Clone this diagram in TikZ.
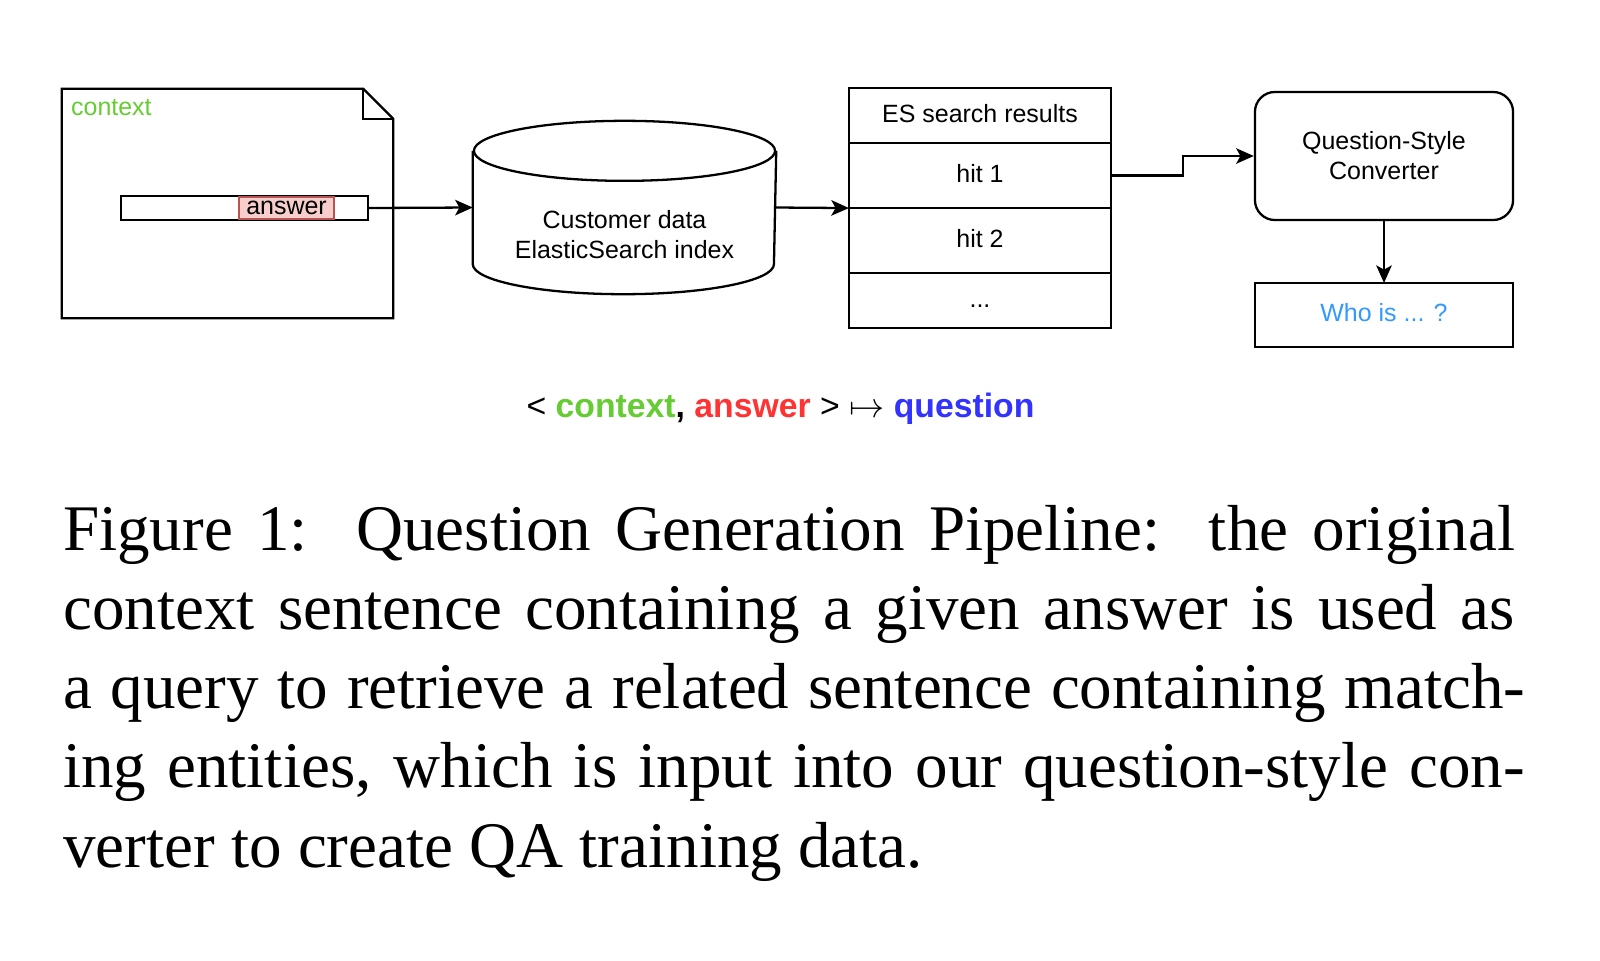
\documentclass[tikz,border=0pt]{standalone}
\usepackage{fontspec}
\setmainfont{Liberation Serif}
\setsansfont{Liberation Sans}
\usepackage{xcolor}
\usetikzlibrary{positioning,arrows.meta}

\definecolor{ctxgreen}{RGB}{102,204,51}
\definecolor{ansred}{RGB}{255,51,51}
\definecolor{qblue}{RGB}{51,51,255}
\definecolor{whoblue}{RGB}{51,153,255}
\definecolor{ansfill}{RGB}{248,206,204}
\definecolor{ansline}{RGB}{184,84,80}

\begin{document}
\begin{tikzpicture}[x=0.01cm,y=-0.01cm,line width=0.65pt,
   every node/.style={font=\sffamily\fontsize{7.1pt}{8.5pt}\selectfont},
   box/.style={draw,rectangle,minimum width=2.62cm,inner sep=0pt,outer sep=0pt,
      text height=5.2pt,text depth=1.5pt},
   arr/.style={-{Stealth[length=5pt,width=4.4pt,inset=1.2pt]}}]
\useasboundingbox (0,0) rectangle (1600,960);

% context document
\node[minimum width=3.29cm,minimum height=2.27cm,inner sep=0pt] (doc) at (227.5,203.5) {};
\draw (doc.north west) -- ([xshift=-0.3cm]doc.north east) -- ([yshift=-0.3cm]doc.north east)
   -- (doc.south east) -- (doc.south west) -- cycle;
\draw ([xshift=-0.3cm]doc.north east) -- ([xshift=-0.3cm,yshift=-0.3cm]doc.north east)
   -- ([yshift=-0.3cm]doc.north east);
\node[anchor=west,text=ctxgreen,inner sep=0pt] (ctx) at (70,108) {context};
\node[box,minimum width=2.47cm,minimum height=0.22cm] (sent) at (244.5,208) {};
\node[draw=ansline,fill=ansfill,minimum width=0.95cm,minimum height=0.22cm,inner sep=0pt]
   (ans) at (286.5,208) {answer};

% index
\node[minimum width=3.01cm,minimum height=1.71cm,inner sep=0pt] (db) at (624.5,207.5) {};
\draw ([yshift=-0.3cm]db.north) ellipse [x radius=1.505cm,y radius=0.3cm];
\draw ([yshift=-0.3cm]db.north west) -- ([yshift=0.3cm]db.south west)
   arc[start angle=180,end angle=360,x radius=1.505cm,y radius=0.3cm]
   -- ([yshift=-0.3cm]db.north east);
\node[align=center] (dbtext) at (624.5,235) {Customer data\\ElasticSearch index};

% search results
\node[box,minimum height=0.55cm] (es) at (980,115.5) {ES search results};
\node[box,minimum height=0.65cm,below=0pt of es] (hit1) {hit 1};
\node[box,minimum height=0.65cm,below=0pt of hit1] (hit2) {hit 2};
\node[box,minimum height=0.55cm,below=0pt of hit2] (more) {...};

% converter
\node[draw,rounded corners=0.2cm,minimum width=2.58cm,minimum height=1.28cm,inner sep=0pt,
   align=center] (conv) at (1384,156) {Question-Style\\Converter};
\node[box,minimum width=2.58cm,minimum height=0.64cm,text=whoblue] (who) at (1384,315) {Who is ... ?};

\draw[arr] (sent.east) -- (db.west);
\draw[arr] (db.east) -- (hit1.south west);
\draw[arr] (hit1.east) -- ++(72,0) |- (conv.west);
\draw[arr] (conv.south) -- (who.north);

\node[anchor=base,font=\sffamily\bfseries\fontsize{9.6pt}{11pt}\selectfont] (formula) at (780.5,417)
   {{\mdseries <} \textcolor{ctxgreen}{context}, \textcolor{ansred}{answer} {\mdseries >}
   {\mdseries$\mapsto$} \textcolor{qblue}{question}};

% caption
\node[anchor=base west,inner sep=0pt,align=left,font=\rmfamily\fontsize{18.5pt}{22.5pt}\selectfont]
   (caption) at (62,867) {%
   \makebox[14.51cm][s]{Figure 1:\ \ Question Generation Pipeline:\ \ the original}\\
   \makebox[14.51cm][s]{context sentence containing a given answer is used as}\\
   \makebox[14.61cm][s]{a query to retrieve a related sentence containing match-}\\
   \makebox[14.61cm][s]{ing entities, which is input into our question-style con-}\\
   verter to create QA training data.};
\end{tikzpicture}
\end{document}
